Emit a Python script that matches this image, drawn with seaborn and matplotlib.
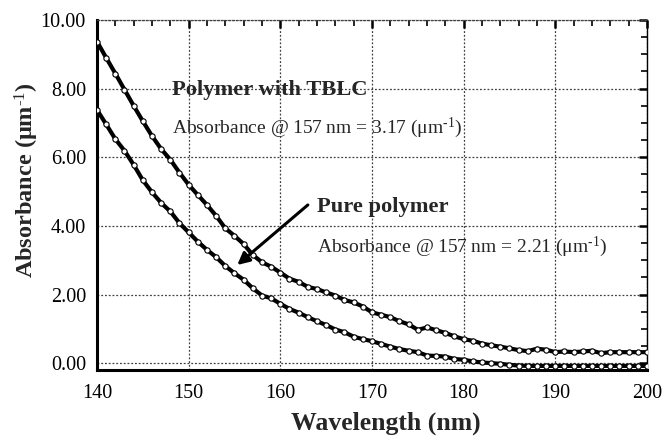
import numpy as np
import pandas as pd
import matplotlib
matplotlib.use("Agg")
import matplotlib.pyplot as plt
import seaborn as sns
from matplotlib.ticker import MultipleLocator, FormatStrFormatter

wavelength = list(range(140, 201))
tblc = [9.37, 8.90, 8.44, 7.97, 7.50, 7.05, 6.62, 6.24, 5.93, 5.55,
        5.20, 4.90, 4.61, 4.29, 3.93, 3.71, 3.47, 3.15, 2.94, 2.81,
        2.64, 2.46, 2.37, 2.22, 2.16, 2.06, 1.97, 1.84, 1.77, 1.65,
        1.48, 1.41, 1.34, 1.22, 1.13, 0.97, 1.04, 0.96, 0.88, 0.78,
        0.70, 0.65, 0.57, 0.52, 0.48, 0.43, 0.38, 0.35, 0.42, 0.39,
        0.32, 0.34, 0.32, 0.34, 0.36, 0.29, 0.32, 0.32, 0.32, 0.32, 0.32]
pure = [7.38, 6.96, 6.53, 6.19, 5.78, 5.33, 4.98, 4.67, 4.42, 4.08,
        3.81, 3.54, 3.30, 3.09, 2.83, 2.62, 2.43, 2.18, 1.97, 1.89,
        1.73, 1.58, 1.47, 1.34, 1.22, 1.11, 0.98, 0.90, 0.77, 0.70,
        0.64, 0.56, 0.48, 0.41, 0.36, 0.32, 0.22, 0.21, 0.19, 0.12,
        0.10, 0.05, 0.02, 0.00, -0.02, -0.05, -0.07, -0.08, -0.08, -0.08,
        -0.08, -0.08, -0.08, -0.08, -0.08, -0.08, -0.08, -0.08, -0.08, -0.08, -0.08]
series_names = ["Polymer with TBLC", "Pure polymer"]
y_ticks = [0, 2, 4, 6, 8, 10]
x_ticks = [140, 150, 160, 170, 180, 190, 200]

df = pd.DataFrame({
    "Wavelength": wavelength * 2,
    "Absorbance": tblc + pure,
    "Series": [series_names[0]] * len(wavelength) + [series_names[1]] * len(wavelength),
})

sns.set_style("white")
plt.rcParams["font.family"] = ["Liberation Serif", "DejaVu Serif"]
plt.rcParams["mathtext.fontset"] = "custom"
plt.rcParams["mathtext.rm"] = "Liberation Serif"
plt.rcParams["mathtext.bf"] = "Liberation Serif:bold"
plt.rcParams["mathtext.it"] = "Liberation Serif:italic"

fig = plt.figure(figsize=(6.64, 4.38), dpi=100)
ax = fig.add_axes([97 / 664, 1 - 370 / 438, 550 / 664, 350 / 438])

sns.lineplot(data=df, x="Wavelength", y="Absorbance", units="Series",
             estimator=None, color="black", linewidth=3, marker="o",
             markersize=3.8, markerfacecolor="white", markeredgecolor="black",
             markeredgewidth=0.8, ax=ax, legend=False, zorder=3)

ax.set_xlim(140, 200)
ax.set_ylim(-0.2, 10)
ax.set_xticks(x_ticks)
ax.set_yticks(y_ticks)
ax.xaxis.set_minor_locator(MultipleLocator(2))
ax.yaxis.set_minor_locator(MultipleLocator(0.5))
ax.yaxis.set_major_formatter(FormatStrFormatter("%.2f"))
ax.tick_params(which="both", direction="in", top=True, right=True,
               labelsize=14.5, colors="black")
ax.tick_params(which="major", length=6, width=1.8)
ax.tick_params(which="minor", length=4, width=1.2)
ax.tick_params(axis="x", which="major", pad=10)
ax.tick_params(axis="y", which="major", pad=8)
ax.grid(True, which="major", linestyle=(0, (1.5, 1.5)), color="0.25", linewidth=0.9)

for side in ["left", "bottom"]:
    ax.spines[side].set_linewidth(2.2)
    ax.spines[side].set_color("black")
ax.spines["right"].set_linewidth(1.0)
ax.spines["right"].set_color("black")
ax.spines["top"].set_linewidth(0.9)
ax.spines["top"].set_linestyle((0, (1.5, 1.5)))
ax.spines["top"].set_color("0.25")

ax.set_xlabel("Wavelength (nm)", fontsize=18.5, fontweight="bold")
ax.xaxis.set_label_coords((386 - 97) / 550, -(423 - 370) / 350, transform=ax.transAxes)
ax.xaxis.label.set_va("center")
ax.set_ylabel("Absorbance (\u03bcm$^{\\text{-1}}$)", fontsize=17.5, fontweight="bold")
ax.yaxis.set_label_coords(-(97 - 27) / 550, (370 - 180) / 350, transform=ax.transAxes)
ax.yaxis.label.set_va("center")

ax.text(148.2, 7.96, series_names[0], fontsize=16.2, fontweight="bold",
        va="center", ha="left", zorder=4)
ax.text(148.2, 6.85, "Absorbance @ 157 nm = 3.17 (\u03bcm$^{\\text{-1}}$)", fontsize=14,
        va="center", ha="left", zorder=4)
ax.text(164.0, 4.56, series_names[1], fontsize=16.2, fontweight="bold",
        va="center", ha="left", zorder=4)
ax.text(164.0, 3.40, "Absorbance @ 157 nm = 2.21 (\u03bcm$^{\\text{-1}}$)", fontsize=14,
        va="center", ha="left", zorder=4)

ax.annotate("", xy=(155.3, 2.86), xytext=(163.0, 4.61),
            arrowprops=dict(arrowstyle="-|>", color="black", lw=2.2,
                            mutation_scale=18, shrinkA=0, shrinkB=0), zorder=5)

fig.savefig("out.png", dpi=100)
